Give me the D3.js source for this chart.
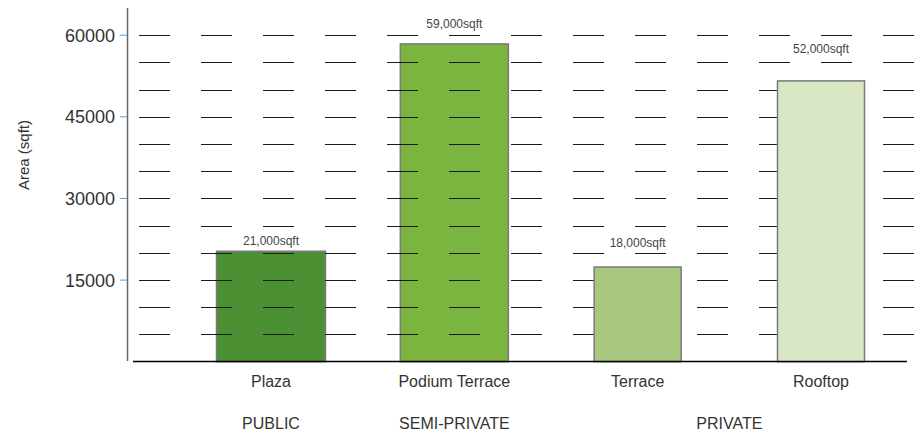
<!DOCTYPE html>
<meta charset="utf-8">
<script src="https://d3js.org/d3.v7.min.js"></script>
<style>
  body { margin: 0; background: #fff; }
  text { font-family: "Liberation Sans", Arial, sans-serif; fill: #333; }
</style>
<div id="my_dataviz"></div>
<script>

// data
var categories = ["Plaza", "Podium Terrace", "Terrace", "Rooftop"];
var areas = [20300, 58400, 17400, 51600];
var areaLabels = ["21,000sqft", "59,000sqft", "18,000sqft", "52,000sqft"];
var zones = ["PUBLIC", "SEMI-PRIVATE", "PRIVATE", "PRIVATE"];
var zoneNames = ["PUBLIC", "SEMI-PRIVATE", "PRIVATE"];
var yTicks = [15000, 30000, 45000, 60000];
var gridValues = [5000, 10000, 15000, 20000, 25000, 30000, 35000, 40000, 45000, 50000, 55000, 60000];

// styles
var barColors = ["#4b9134", "#7bb540", "#a9c87f", "#d9e7c4"];
var barWidth = {"PUBLIC": 109, "SEMI-PRIVATE": 108, "PRIVATE": 87};
var barOverGrid = [false, false, true, true];
var labelGap = [6, 16, 20, 28];

var width = 915, height = 440;

var svg = d3.select("#my_dataviz")
  .append("svg")
    .attr("width", width)
    .attr("height", height);

var y = d3.scaleLinear()
  .domain([0, 65000])
  .range([361.7, 8]);

var x = d3.scalePoint()
  .domain(categories)
  .range([271, 821]);

var rows = categories.map(function(c, i) {
  return {name: c, value: areas[i], label: areaLabels[i], zone: zones[i],
          color: barColors[i], over: barOverGrid[i], gap: labelGap[i]};
});

function drawBars(sel) {
  sel.append("rect")
    .attr("x", function(d){ return x(d.name) - barWidth[d.zone] / 2 })
    .attr("width", function(d){ return barWidth[d.zone] })
    .attr("y", function(d){ return y(d.value) })
    .attr("height", function(d){ return y(0) - y(d.value) })
    .style("fill", function(d){ return d.color })
    .attr("stroke", "#7a7a7a")
    .attr("stroke-width", 1.5);
}

// bars under the grid
svg.selectAll("barsUnder")
  .data(rows.filter(function(d){ return !d.over }))
  .enter()
  .append("g")
  .call(drawBars);

// dashed grid
svg.selectAll("gridlines")
  .data(gridValues)
  .enter()
  .append("line")
    .attr("x1", 139)
    .attr("x2", 915)
    .attr("y1", function(d){ return Math.round(y(d)) + 0.5 })
    .attr("y2", function(d){ return Math.round(y(d)) + 0.5 })
    .attr("stroke", "#1a1a1a")
    .attr("stroke-width", 1.2)
    .attr("stroke-dasharray", "31,31");

// bars over the grid
svg.selectAll("barsOver")
  .data(rows.filter(function(d){ return d.over }))
  .enter()
  .append("g")
  .call(drawBars);

// value labels
svg.selectAll("valueLabels")
  .data(rows)
  .enter()
  .append("text")
    .attr("x", function(d){ return x(d.name) })
    .attr("y", function(d){ return y(d.value) - d.gap })
    .attr("text-anchor", "middle")
    .style("font-size", "12px")
    .style("fill", "#444")
    .text(function(d){ return d.label });

// y axis line
svg.append("line")
  .attr("x1", 127.5).attr("x2", 127.5)
  .attr("y1", 8).attr("y2", 361)
  .attr("stroke", "#666")
  .attr("stroke-width", 1.5);

// baseline
svg.append("line")
  .attr("x1", 133).attr("x2", 907)
  .attr("y1", 361.5).attr("y2", 361.5)
  .attr("stroke", "#000")
  .attr("stroke-width", 1.5);

// y ticks
var ticks = svg.selectAll("yticks")
  .data(yTicks)
  .enter()
  .append("g")
    .attr("transform", function(d){ return "translate(0," + y(d) + ")" });

ticks.append("line")
  .attr("x1", 120).attr("x2", 127)
  .attr("stroke", "#4aa3df")
  .attr("stroke-width", 1);

ticks.append("text")
  .attr("x", 115)
  .attr("dy", "0.36em")
  .attr("text-anchor", "end")
  .style("font-size", "18px")
  .text(function(d){ return d });

// y axis title
svg.append("text")
  .attr("transform", "translate(29,155)rotate(-90)")
  .attr("text-anchor", "middle")
  .style("font-size", "15px")
  .text("Area (sqft)");

// category labels
svg.selectAll("catLabels")
  .data(categories)
  .enter()
  .append("text")
    .attr("x", function(d){ return x(d) })
    .attr("y", 387)
    .attr("text-anchor", "middle")
    .style("font-size", "16px")
    .text(function(d){ return d });

// zone labels, centred under their bars
svg.selectAll("zoneLabels")
  .data(zoneNames)
  .enter()
  .append("text")
    .attr("x", function(z){
      return d3.mean(rows.filter(function(d){ return d.zone === z }), function(d){ return x(d.name) });
    })
    .attr("y", 429)
    .attr("text-anchor", "middle")
    .style("font-size", "16px")
    .text(function(d){ return d });

</script>
